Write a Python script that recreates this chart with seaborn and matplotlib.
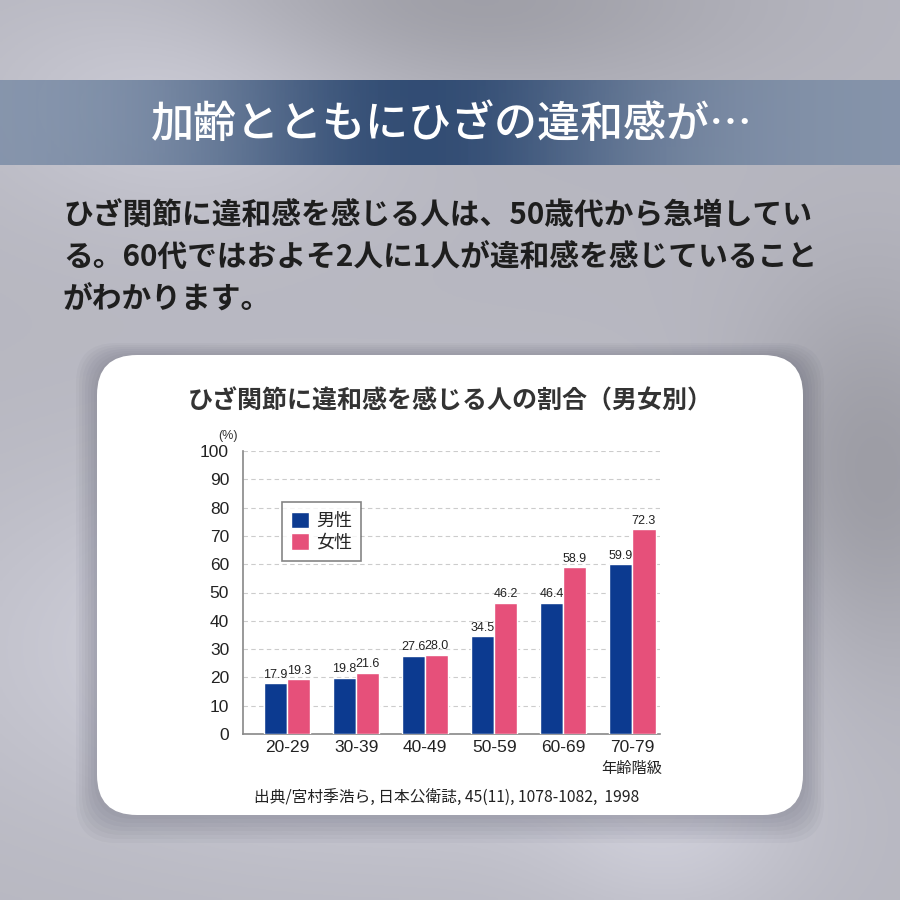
import numpy as np
import pandas as pd
import seaborn as sns
from matplotlib import pyplot as plt
from matplotlib.patches import FancyBboxPatch

age_groups = ['20-29', '30-39', '40-49', '50-59', '60-69', '70-79']
male = [17.9, 19.8, 27.6, 34.5, 46.4, 59.9]
female = [19.3, 21.6, 28.0, 46.2, 58.9, 72.3]
sexes = ['男性', '女性']
colors = ['#0c3a90', '#e6507a']

headline = '加齢とともにひざの違和感が…'
body_lines = ['ひざ関節に違和感を感じる人は、50歳代から急増してい',
              'る。60代ではおよそ2人に1人が違和感を感じていること',
              'がわかります。']
chart_title = 'ひざ関節に違和感を感じる人の割合（男女別）'
source = '出典/宮村季浩ら, 日本公衛誌, 45(11), 1078-1082,  1998'

df = pd.DataFrame({
    'age': age_groups * 2,
    'value': male + female,
    'sex': [sexes[0]] * len(male) + [sexes[1]] * len(female),
})

sns.set_theme(style='white')
plt.rcParams['font.family'] = ['Noto Sans CJK JP', 'DejaVu Sans']
num_font = ['Liberation Sans', 'DejaVu Sans']

fig = plt.figure(figsize=(9, 9), dpi=100)

# cloudy grey background
bg = fig.add_axes([0, 0, 1, 1])
yy, xx = np.mgrid[0:1:300j, 0:1:300j]
shade = 0.74 + 0.14 * np.exp(-((xx - 0.45) ** 2 / 0.2 + (yy - 0.72) ** 2 / 0.04))
shade += 0.08 * np.exp(-((xx - 0.2) ** 2 / 0.05 + (yy - 0.1) ** 2 / 0.02))
shade += 0.06 * np.exp(-((xx - 0.75) ** 2 / 0.02 + (yy - 0.93) ** 2 / 0.01))
shade -= 0.12 * np.exp(-((xx - 0.97) ** 2 / 0.02 + (yy - 0.55) ** 2 / 0.05))
shade -= 0.10 * np.exp(-((xx - 0.5) ** 2 / 0.1 + (yy - 0.0) ** 2 / 0.01))
rgb = np.dstack([shade * 0.97, shade * 0.97, shade * 1.02]).clip(0, 1)
bg.imshow(rgb, extent=[0, 900, 0, 900], origin='lower', aspect='auto')
bg.set_xlim(0, 900)
bg.set_ylim(900, 0)
bg.axis('off')

# headline banner
band = np.linspace(0, 1, 300)
prof = np.exp(-((band - 0.47) ** 2) / 0.07)
banner = np.zeros((1, 300, 4))
banner[0, :, 0] = 0.45 - 0.28 * prof
banner[0, :, 1] = 0.53 - 0.25 * prof
banner[0, :, 2] = 0.64 - 0.20 * prof
banner[0, :, 3] = 0.7 + 0.25 * prof
bg.imshow(banner, extent=[0, 900, 165, 80], aspect='auto', zorder=2)
bg.text(452, 124, headline, color='white', fontsize=31, ha='center', va='center',
        fontweight='medium', zorder=3)

# body text
for i, line in enumerate(body_lines):
    bg.text(63, 216 + i * 42, line, color='#1e1e1e', fontsize=21.4, fontweight='bold',
            ha='left', va='center', zorder=3)

# white card with soft shadow
for k in range(8):
    bg.add_patch(FancyBboxPatch((97 - k * 3, 357 - k * 2), 706 + k * 6, 458 + k * 6,
                                boxstyle='round,pad=0,rounding_size=40',
                                fc='#4a4c5e', ec='none', alpha=0.045, zorder=3))
bg.add_patch(FancyBboxPatch((97, 355), 706, 460, boxstyle='round,pad=0,rounding_size=40',
                            fc='white', ec='none', zorder=4))
bg.text(450, 401, chart_title, color='#333333', fontsize=18, fontweight='bold',
        ha='center', va='center', zorder=5)
bg.text(228, 436, '(%)', color='#333333', fontsize=9, ha='center', va='center',
        family=num_font, zorder=5)
bg.text(632, 768, '年齢階級', color='#222222', fontsize=11, ha='center', va='center', zorder=5)
bg.text(447, 798, source, color='#222222', fontsize=11.3, ha='center', va='center', zorder=5)

# bar chart
ax = fig.add_axes([243 / 900, 1 - 734 / 900, (660 - 243) / 900, (734 - 451) / 900])
ax.set_zorder(5)
ax.patch.set_alpha(0)
sns.barplot(data=df, x='age', y='value', hue='sex', palette=colors, width=0.67,
            saturation=1, ax=ax, zorder=3)
for cont in ax.containers:
    ax.bar_label(cont, fmt='%.1f', fontsize=9, color='#222222', padding=2,
                 family=num_font)
ax.set_ylim(0, 100)
ax.set_xlim(-0.64, 5.4)
ax.set_yticks(range(0, 101, 10))
ax.yaxis.grid(True, color='#cccccc', linestyle=(0, (4, 3)), linewidth=0.8, zorder=0)
ax.set_xlabel('')
ax.set_ylabel('')
for side in ['top', 'right']:
    ax.spines[side].set_visible(False)
for side in ['left', 'bottom']:
    ax.spines[side].set_color('#888888')
    ax.spines[side].set_linewidth(1.2)
ax.tick_params(axis='both', length=0, labelsize=12.5, colors='#222222')
ax.tick_params(axis='y', pad=10)
ax.tick_params(axis='x', pad=4)
for lbl in ax.get_xticklabels() + ax.get_yticklabels():
    lbl.set_family(num_font)
leg = ax.legend(loc='upper left', bbox_to_anchor=(0.072, 0.85), fontsize=13,
                frameon=True, fancybox=False, handlelength=1.0, handleheight=1.0,
                handletextpad=0.4, borderpad=0.5, labelspacing=0.2)
leg.get_frame().set_edgecolor('#666666')
leg.get_frame().set_linewidth(1.2)

fig.savefig('out.png', dpi=100)
